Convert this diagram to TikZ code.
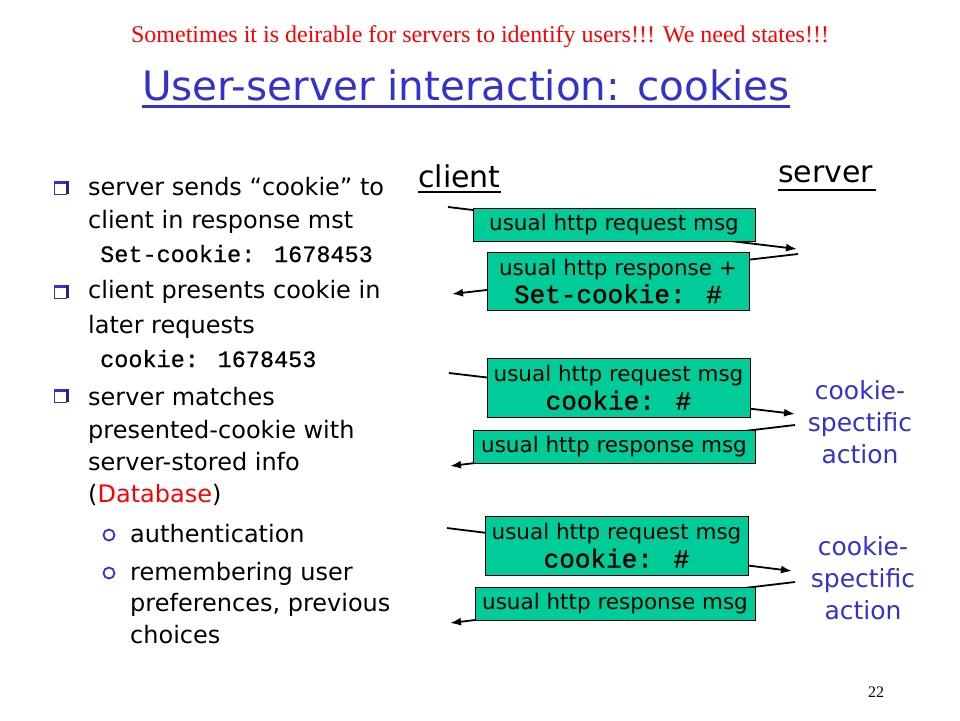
\documentclass[tikz,border=0pt]{standalone}
\usepackage{fontspec}
\setmainfont{DejaVu Sans}
\newfontfamily\serifr{Liberation Serif}
\newfontfamily\monof[FakeBold=0.6]{Liberation Mono}
\newfontfamily\monob[FakeBold=1.3]{Liberation Mono}
\usetikzlibrary{arrows.meta}
\definecolor{tblue}{RGB}{51,51,204}
\definecolor{tred}{RGB}{255,0,0}
\definecolor{boxg}{RGB}{0,204,153}
\begin{document}
\begin{tikzpicture}[x=1pt,y=-1pt,
  txt/.style={anchor=base west, inner sep=0pt, font=\fontsize{24}{28}\selectfont},
  mono/.style={anchor=base west, inner sep=0pt, font=\monof\fontsize{23.5}{28}\selectfont},
  msgbox/.style={draw=black, line width=0.8pt, fill=boxg, inner sep=0pt, align=center,
     font=\fontsize{21.5}{28}\selectfont},
  msg/.style={line width=1.8pt, -{Latex[length=11pt,width=8pt]}},
  sqb/.style={draw=tblue, line width=1pt},
  act/.style={text=tblue, align=center, font=\fontsize{25}{32}\selectfont, inner sep=0pt},
  role/.style={anchor=base west, inner sep=0pt, font=\fontsize{30}{34}\selectfont}
]
\useasboundingbox (0,0) rectangle (960,720);
\fill[white] (0,0) rectangle (960,720);

% header
\node[anchor=base, inner sep=0pt, text=tred, font=\serifr\fontsize{24}{26}\selectfont] (sub) at (480,42)
  {Sometimes it is deirable for servers to identify users!!! We need states!!!};
\node[anchor=base west, inner sep=0pt, text=tblue, font=\fontsize{40.5}{44}\selectfont] (title) at (142,100)
  {User-server interaction: cookies};
\draw[tblue, line width=3pt] (142,106) -- (790,106);

% bullets
\newcommand{\sqbullet}[2]{%
  \draw[sqb] (#1,#2) rectangle ++(12,13);
  \fill[tblue] (#1,#2) rectangle ++(14,3);
  \fill[tblue!70!black] (#1+12,#2) rectangle ++(2.5,13);}
\sqbullet{54}{181}
\sqbullet{54}{285}
\sqbullet{54}{389}
\draw[tblue, line width=1.8pt] (109,535) circle (5.5);
\draw[tblue, line width=1.8pt] (109,573) circle (5.5);

\node[txt] (l1) at (88,195) {server sends “cookie” to};
\node[txt] (l2) at (88,228) {client in response mst};
\node[mono] (l3) at (100,262) {Set-cookie: 1678453};
\node[txt] (l4) at (88,298) {client presents cookie in};
\node[txt] (l5) at (88,333) {later requests};
\node[mono] (l6) at (100,367) {cookie: 1678453};
\node[txt] (l7) at (88,405) {server matches};
\node[txt] (l8) at (88,438) {presented-cookie with};
\node[txt] (l9) at (88,470) {server-stored info};
\node[txt] (l10) at (88,502) {(\textcolor{tred}{Database})};
\node[txt] (l11) at (130,542) {authentication};
\node[txt] (l12) at (130,580) {remembering user};
\node[txt] (l13) at (130,611) {preferences, previous};
\node[txt] (l14) at (130,643) {choices};

% roles
\node[role] (client) at (418,187) {client};
\draw[line width=2pt] (418,192) -- (501,192);
\node[role] (server) at (778,182) {server};
\draw[line width=2pt] (778,190) -- (876,190);

% connector end points
\coordinate (c1) at (448,207);  \coordinate (s1) at (797,249);
\coordinate (s2) at (798,254);  \coordinate (c2) at (452,294);
\coordinate (c3) at (449,373);  \coordinate (s3) at (795,414);
\coordinate (s4) at (795,425);  \coordinate (c4) at (450,466);
\coordinate (c5) at (447,528);  \coordinate (s5) at (792,571);
\coordinate (s6) at (795,582);  \coordinate (c6) at (450,623);

\draw[msg] (c1) -- (s1);
\draw[msg] (s2) -- (c2);
\draw[msg] (c3) -- (s3);
\draw[msg] (s4) -- (c4);
\draw[msg] (c5) -- (s5);
\draw[msg] (s6) -- (c6);

% boxes
\node[msgbox, minimum width=282pt, minimum height=33pt] (b1) at (614,224.5) {usual http request msg};
\node[msgbox, minimum width=262pt, minimum height=58pt] (b2) at (618,281)
  {usual http response +\\{\monob\fontsize{26}{28}\selectfont Set-cookie: \#}};
\node[msgbox, minimum width=263pt, minimum height=59pt] (b3) at (618.5,387.5)
  {usual http request msg\\{\monob\fontsize{26}{28}\selectfont cookie: \#}};
\node[msgbox, minimum width=282pt, minimum height=33pt] (b4) at (614,446.5) {usual http response msg};
\node[msgbox, minimum width=263pt, minimum height=59pt] (b5) at (616.5,545.5)
  {usual http request msg\\{\monob\fontsize{26}{28}\selectfont cookie: \#}};
\node[msgbox, minimum width=280pt, minimum height=33pt] (b6) at (615,603.5) {usual http response msg};

% actions
\node[act] (a1) at (860,422) {cookie-\\spectific\\action};
\node[act] (a2) at (863,578) {cookie-\\spectific\\action};

% page number
\node[anchor=base, inner sep=0pt, font=\serifr\fontsize{16}{18}\selectfont] (pg) at (876,697) {22};
\end{tikzpicture}
\end{document}
